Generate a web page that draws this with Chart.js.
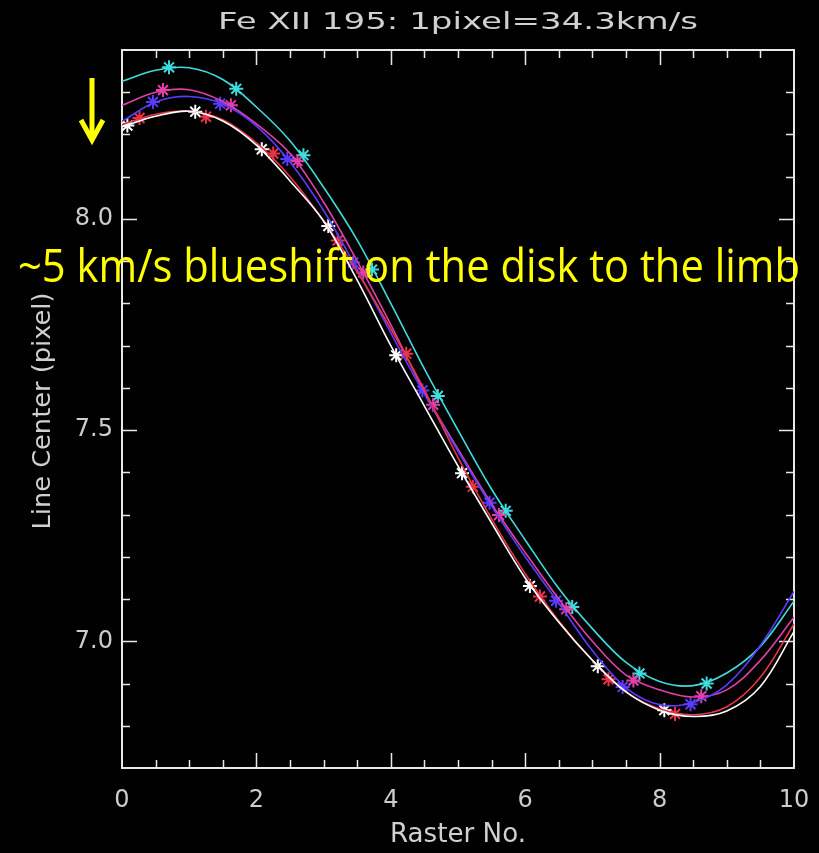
<!DOCTYPE html>
<html><head><meta charset="utf-8">
<script src="https://cdn.jsdelivr.net/npm/chart.js@4.4.1/dist/chart.umd.min.js"></script>
<style>html,body{margin:0;padding:0;background:#000;}canvas{display:block}</style>
</head><body>
<canvas id="c" width="819" height="853"></canvas>
<script>
// ---- data ----
const titleText = "Fe XII 195: 1pixel=34.3km/s";
const xTitle = "Raster No.";
const yTitle = "Line Center (pixel)";
const noteText = "~5 km/s blueshift on the disk to the limb";

const xTickLabels = [0, 2, 4, 6, 8, 10];
const yTickLabels = [7.0, 7.5, 8.0];
const xMinorTicks = [0.5,1,1.5,2,2.5,3,3.5,4,4.5,5,5.5,6,6.5,7,7.5,8,8.5,9,9.5];
const yMinorTicks = [6.8,6.9,7.0,7.1,7.2,7.3,7.4,7.5,7.6,7.7,7.8,7.9,8.0,8.1,8.2,8.3];

const curveX = [0,0.5,1,1.5,2,2.5,3,3.5,4,4.5,5,5.5,6,6.5,7,7.5,8,8.5,9,9.5,10];
const cyanCurve    = [8.326,8.352,8.358,8.330,8.265,8.185,8.075,7.950,7.800,7.645,7.500,7.360,7.240,7.125,7.030,6.950,6.905,6.895,6.925,6.988,7.095];
const magentaCurve = [8.269,8.300,8.306,8.278,8.225,8.155,8.040,7.900,7.750,7.590,7.455,7.325,7.210,7.100,7.000,6.920,6.885,6.868,6.885,6.955,7.057];
const blueCurve    = [8.231,8.277,8.290,8.272,8.220,8.135,8.020,7.880,7.730,7.585,7.450,7.320,7.200,7.090,6.978,6.890,6.850,6.855,6.897,6.990,7.118];
const redCurve     = [8.223,8.248,8.255,8.235,8.180,8.100,7.995,7.875,7.740,7.595,7.435,7.290,7.160,7.048,6.955,6.880,6.840,6.826,6.845,6.915,7.041];
const whiteCurve   = [8.218,8.243,8.255,8.232,8.175,8.090,7.995,7.855,7.700,7.557,7.415,7.280,7.150,7.045,6.955,6.880,6.837,6.822,6.835,6.893,7.023];

const cyanStarX    = [0.70,1.70,2.70,3.72,4.70,5.71,6.70,7.70,8.70];
const cyanStarY    = [8.359,8.308,8.151,7.880,7.581,7.309,7.081,6.924,6.900];
const magentaStarX = [0.61,1.62,2.61,3.59,4.63,5.61,6.61,7.61,8.62];
const magentaStarY = [8.305,8.269,8.137,7.873,7.560,7.299,7.076,6.907,6.870];
const blueStarX    = [0.46,1.46,2.46,3.44,4.47,5.47,6.46,7.45,8.46];
const blueStarY    = [8.277,8.273,8.142,7.897,7.594,7.328,7.096,6.892,6.851];
const redStarX     = [0.26,1.25,2.25,3.21,4.23,5.22,6.22,7.24,8.23];
const redStarY     = [8.239,8.242,8.155,7.949,7.681,7.366,7.106,6.910,6.828];
const whiteStarX   = [0.08,1.09,2.08,3.07,4.08,5.06,6.07,7.08,8.07];
const whiteStarY   = [8.221,8.254,8.165,7.983,7.677,7.398,7.131,6.941,6.837];

const colors = {cyan:'#3fdcdc', magenta:'#e040a8', blue:'#5a3cff', red:'#e83446', white:'#ffffff'};

const pts = (xs, ys) => xs.map((x, i) => ({x: x, y: ys[i]}));
function lineDs(ys, c){ return {data: pts(curveX, ys), showLine:true, borderColor:c, borderWidth:1.6, pointRadius:0, tension:0.35, fill:false}; }
function starDs(xs, ys, c){ return {data: pts(xs, ys), showLine:false, pointStyle:'star', pointRadius:7, borderColor:c, backgroundColor:c, pointBorderWidth:2}; }

function fitText(ctx, text, cx, cy, w, font, color, rot){
  ctx.save();
  ctx.font = font;
  const m = ctx.measureText(text).width;
  ctx.translate(cx, cy);
  if (rot) ctx.rotate(rot);
  ctx.scale(w / m, 1);
  ctx.fillStyle = color;
  ctx.textAlign = 'center';
  ctx.textBaseline = 'alphabetic';
  ctx.fillText(text, 0, 0);
  ctx.restore();
}

const decor = {
  id:'decor',
  beforeDraw(chart){
    const ctx = chart.ctx;
    ctx.save(); ctx.fillStyle = '#000'; ctx.fillRect(0,0,chart.width,chart.height); ctx.restore();
  },
  beforeDatasetsDraw(chart){
    const {ctx, chartArea:a, scales:{x, y}} = chart;
    ctx.save();
    ctx.strokeStyle = '#e8e8e8'; ctx.lineWidth = 2;
    ctx.strokeRect(a.left, a.top, a.right - a.left, a.bottom - a.top);
    ctx.lineWidth = 1.5;
    ctx.beginPath();
    xMinorTicks.forEach(v => {
      const px = Math.round(x.getPixelForValue(v)) + 0.5;
      const len = xTickLabels.includes(v) ? 15 : 8;
      ctx.moveTo(px, a.bottom); ctx.lineTo(px, a.bottom - len);
      ctx.moveTo(px, a.top); ctx.lineTo(px, a.top + len);
    });
    yMinorTicks.forEach(v => {
      const py = Math.round(y.getPixelForValue(v)) + 0.5;
      const len = yTickLabels.some(t => Math.abs(t - v) < 1e-6) ? 15 : 8;
      ctx.moveTo(a.left, py); ctx.lineTo(a.left + len, py);
      ctx.moveTo(a.right, py); ctx.lineTo(a.right - len, py);
    });
    ctx.stroke();
    ctx.restore();
  },
  afterDraw(chart){
    const ctx = chart.ctx;
    const a = chart.chartArea;
    const cx = (a.left + a.right) / 2;
    fitText(ctx, titleText, cx, 29, 480, '23px "DejaVu Sans"', '#d0d0d0');
    fitText(ctx, xTitle, cx, 842, 136, '26px "DejaVu Sans"', '#d0d0d0');
    fitText(ctx, yTitle, 50, (a.top + a.bottom) / 2 + 2, 237, '24px "DejaVu Sans"', '#d0d0d0', -Math.PI / 2);
    // yellow annotation
    fitText(ctx, noteText, 409, 282, 782, '46px "Open Sans"', '#ffff00');
    // yellow arrow
    ctx.save();
    ctx.strokeStyle = '#ffff00'; ctx.lineWidth = 5; ctx.lineCap = 'butt'; ctx.lineJoin = 'miter';
    ctx.beginPath(); ctx.moveTo(92, 78); ctx.lineTo(92, 139); ctx.stroke();
    ctx.beginPath(); ctx.moveTo(81, 120); ctx.lineTo(92, 140); ctx.lineTo(103, 120); ctx.stroke();
    ctx.restore();
  }
};

new Chart(document.getElementById('c'), {
  type: 'scatter',
  data: {
    datasets: [
      lineDs(whiteCurve, colors.white),
      lineDs(redCurve, colors.red),
      lineDs(blueCurve, colors.blue),
      lineDs(magentaCurve, colors.magenta),
      lineDs(cyanCurve, colors.cyan),
      starDs(whiteStarX, whiteStarY, colors.white),
      starDs(redStarX, redStarY, colors.red),
      starDs(blueStarX, blueStarY, colors.blue),
      starDs(magentaStarX, magentaStarY, colors.magenta),
      starDs(cyanStarX, cyanStarY, colors.cyan)
    ]
  },
  options: {
    responsive: false, animation: false, devicePixelRatio: 1,
    layout: {padding: {top: 50, right: 25, left: 0, bottom: 0}},
    plugins: {legend: {display: false}, tooltip: {enabled: false}, title: {display: false}},
    scales: {
      x: {
        type: 'linear', min: 0, max: 10,
        grid: {display: false, drawTicks: false}, border: {display: false},
        afterBuildTicks: s => { s.ticks = xTickLabels.map(v => ({value: v})); },
        afterFit: s => { s.height = 85; s.paddingLeft = 0; s.paddingRight = 0; },
        ticks: {color: '#cccccc', font: {family: 'DejaVu Sans', size: 24}, padding: 18, maxRotation: 0, autoSkip: false, callback: v => String(v)}
      },
      y: {
        type: 'linear', min: 6.7, max: 8.4,
        grid: {display: false, drawTicks: false}, border: {display: false},
        afterBuildTicks: s => { s.ticks = yTickLabels.map(v => ({value: v})); },
        afterFit: s => { s.width = 122; s.paddingTop = 0; s.paddingBottom = 0; },
        ticks: {color: '#cccccc', font: {family: 'DejaVu Sans', size: 24}, padding: 9, autoSkip: false, callback: v => Number(v).toFixed(1)}
      }
    }
  },
  plugins: [decor]
});
</script>
</body></html>
